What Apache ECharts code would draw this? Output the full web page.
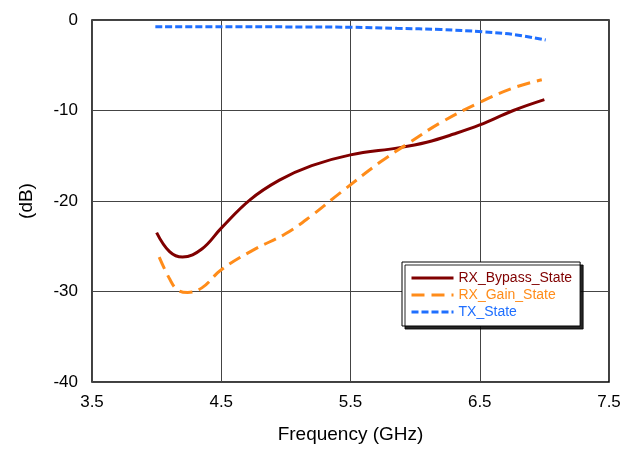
<!DOCTYPE html>
<html><head><meta charset="utf-8">
<script src="https://cdn.jsdelivr.net/npm/echarts@6/dist/echarts.min.js"></script>
<style>html,body{margin:0;padding:0;background:#fff}#c{width:636px;height:449px}</style>
</head><body><div id="c"></div>
<script>
const bypassFreq = [4.0, 4.1, 4.2, 4.35, 4.5, 4.72, 4.95, 5.2, 5.5, 5.88, 6.09, 6.3, 6.5, 6.76, 7.0];
const bypassVal  = [-23.5, -25.6, -26.2, -25.3, -23.0, -19.9, -17.7, -16.1, -14.9, -14.1, -13.5, -12.6, -11.6, -10.0, -8.8];
const gainFreq = [4.02, 4.1, 4.16, 4.24, 4.35, 4.5, 4.75, 5.0, 5.2, 5.42, 5.73, 5.94, 6.19, 6.5, 6.76, 6.98];
const gainVal  = [-26.2, -28.6, -29.8, -30.1, -29.6, -27.6, -25.4, -23.6, -21.6, -19.1, -15.7, -13.7, -11.4, -9.1, -7.5, -6.6];
const txFreq = [3.99, 4.5, 5.0, 5.5, 5.86, 6.2, 6.52, 6.76, 7.01];
const txVal  = [-0.74, -0.74, -0.76, -0.8, -0.92, -1.05, -1.3, -1.6, -2.2];
const xTicks = [3.5, 4.5, 5.5, 6.5, 7.5];
const yTicks = [-40, -30, -20, -10, 0];
const seriesNames = ['RX_Bypass_State', 'RX_Gain_State', 'TX_State'];
const colors = ['#800000', '#FF8C1A', '#1F6FFF'];

const zip = (a, b) => a.map((v, i) => [v, b[i]]);
const chart = echarts.init(document.getElementById('c'));
const font = 'Liberation Sans, Arial, sans-serif';
chart.setOption({
  animation: false,
  grid: { left: 92, right: 27, top: 20, bottom: 67, show: true, borderColor: '#000', borderWidth: 1.5, containLabel: false, outerBoundsMode: 'none' },
  xAxis: {
    type: 'value', min: xTicks[0], max: xTicks[xTicks.length - 1], interval: 1,
    name: 'Frequency (GHz)', nameLocation: 'middle', nameGap: 43,
    nameTextStyle: { fontFamily: font, fontSize: 19, color: '#000' },
    axisLine: { show: false }, axisTick: { show: false },
    axisLabel: { fontFamily: font, fontSize: 17, color: '#000', margin: 12 },
    splitLine: { show: true, lineStyle: { color: '#444', width: 1 } }
  },
  yAxis: {
    type: 'value', min: yTicks[0], max: yTicks[yTicks.length - 1], interval: 10,
    name: '(dB)', nameLocation: 'middle', nameGap: 56, nameRotate: 90,
    nameTextStyle: { fontFamily: font, fontSize: 19, color: '#000' },
    axisLine: { show: false }, axisTick: { show: false },
    axisLabel: { fontFamily: font, fontSize: 17, color: '#000', margin: 14 },
    splitLine: { show: true, lineStyle: { color: '#444', width: 1 } }
  },
  legend: {
    orient: 'vertical', left: 402, top: 262, itemGap: 3, itemWidth: 42, itemHeight: 14,
    padding: [9, 8, 7, 8],
    backgroundColor: '#fff', borderColor: '#000', borderWidth: 1,
    shadowColor: 'rgba(0,0,0,0.85)', shadowBlur: 0, shadowOffsetX: 3, shadowOffsetY: 3,
    itemStyle: { opacity: 0, borderWidth: 0 },
    lineStyle: { width: 3 },
    textStyle: { fontFamily: font, fontSize: 14 },
    data: seriesNames.map((n, i) => ({ name: n, textStyle: { color: colors[i] } }))
  },
  series: [
    { name: seriesNames[0], type: 'line', data: zip(bypassFreq, bypassVal), smooth: 0.4, showSymbol: false, symbol: 'none',
      lineStyle: { color: colors[0], width: 3 }, itemStyle: { color: colors[0] } },
    { name: seriesNames[1], type: 'line', data: zip(gainFreq, gainVal), smooth: 0.4, showSymbol: false, symbol: 'none',
      lineStyle: { color: colors[1], width: 3, type: [13, 7] }, itemStyle: { color: colors[1] } },
    { name: seriesNames[2], type: 'line', data: zip(txFreq, txVal), smooth: 0.4, showSymbol: false, symbol: 'none',
      lineStyle: { color: colors[2], width: 3, type: [7, 3] }, itemStyle: { color: colors[2] } }
  ]
});
</script></body></html>
